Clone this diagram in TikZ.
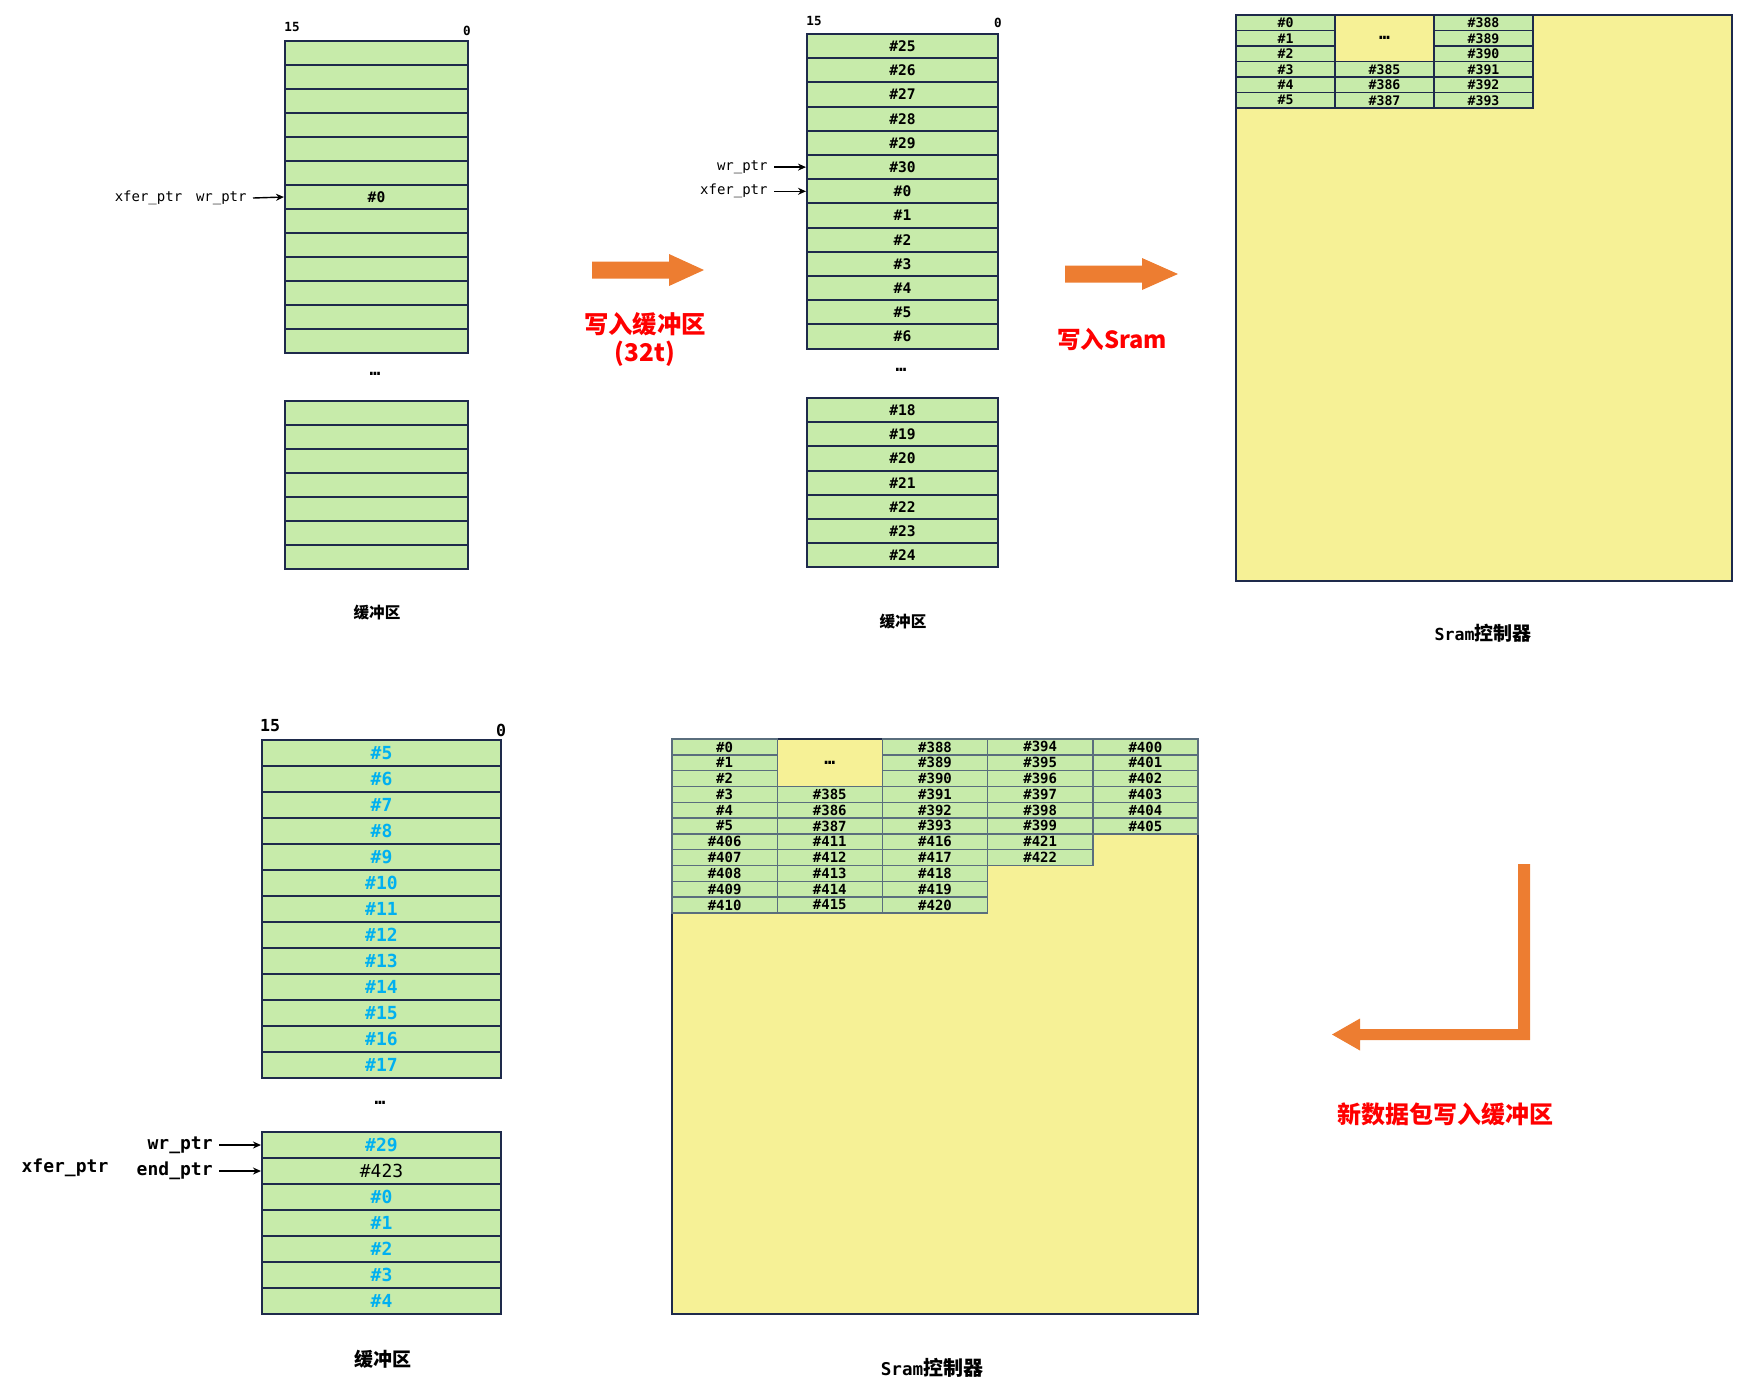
\documentclass[tikz,border=0pt]{standalone}
\usepackage{fontspec}
\setmonofont{DejaVu Sans Mono}
\newfontfamily\cjk{Noto Sans CJK SC}
\usetikzlibrary{arrows.meta}

\definecolor{cellgreen}{RGB}{199,235,170}
\definecolor{sramyellow}{RGB}{246,241,150}
\definecolor{cellline}{RGB}{30,42,75}
\definecolor{gridline}{RGB}{90,110,125}
\definecolor{flow}{RGB}{237,125,49}
\definecolor{note}{RGB}{255,0,0}
\definecolor{newdata}{RGB}{0,176,240}

\tikzset{
  cell/.style={draw=cellline, fill=cellgreen, line width=1pt, inner sep=0pt},
  bufA/.style={cell, minimum width=91.5pt, minimum height=12pt,
    font=\fontsize{7.3}{8}\ttfamily\bfseries},
  bufB/.style={cell, minimum width=95.5pt, minimum height=12.1pt,
    font=\fontsize{7.3}{8}\ttfamily\bfseries},
  bufC/.style={cell, minimum width=119.5pt, minimum height=13pt, text=newdata,
    font=\fontsize{9}{10}\ttfamily\bfseries},
  sramA/.style={cell, line width=0.7pt, minimum width=49.5pt, minimum height=7.75pt,
    font=\fontsize{6.6}{7}\ttfamily\bfseries},
  sramB/.style={cell, draw=gridline, line width=0.7pt, minimum width=52.6pt,
    minimum height=7.9pt, font=\fontsize{7}{7.5}\ttfamily\bfseries},
  sram/.style={draw=cellline, fill=sramyellow, line width=1pt},
  ptr/.style={inner sep=3pt, font=\fontsize{7}{8}\ttfamily},
  ptrC/.style={inner sep=3pt, font=\fontsize{9}{10}\ttfamily\bfseries},
  bit/.style={inner sep=0pt, font=\fontsize{6.3}{7}\ttfamily\bfseries},
  bitC/.style={inner sep=0pt, font=\fontsize{8.3}{9}\ttfamily\bfseries},
  dots/.style={inner sep=0pt, font=\fontsize{9}{10}\ttfamily\bfseries},
  title/.style={inner sep=0pt, font=\fontsize{7.8}{9}\cjk\bfseries},
  titleC/.style={inner sep=0pt, font=\fontsize{9.5}{11}\cjk\bfseries},
  step note/.style={inner sep=0pt, text=note, align=center,
    font=\fontsize{12.2}{14}\cjk\bfseries},
  ptrarrow/.style={-{Stealth[length=4pt,width=3.5pt]}, line width=0.7pt},
}

\begin{document}
\begin{tikzpicture}[x=0.5pt,y=-0.5pt]
  \useasboundingbox (0,0) rectangle (1761,1389);

  % 缓冲区 (初始)
  \foreach \i in {1,...,13}
    \node[bufA] (a\i) at (376.5,{41+(\i-0.5)*24}) {\ifnum\i=7 \#0\fi};
  \foreach \i in {1,...,7}
    \node[bufA] (aa\i) at (376.5,{401+(\i-0.5)*24}) {};
  \node[bit] (a15) at (292,27) {15};
  \node[bit] (a0) at (467,31) {0};
  \node[dots] (adots) at (375,374) {…};
  \node[title] (atitle) at (377,613) {缓冲区};
  \node[ptr] (xferA) at (148.5,198) {xfer\_ptr};
  \node[ptr, anchor=east] (wrA) at (253,198) {wr\_ptr};
  \draw[ptrarrow] (wrA.east) -- (a7.west);

  % 缓冲区 (写满)
  \foreach \lab [count=\i] in {25,26,27,28,29,30,0,1,2,3,4,5,6}
    \node[bufB] (b\i) at (902.5,{34+(\i-0.5)*24.2}) {\#\lab};
  \foreach \lab [count=\i] in {18,...,24}
    \node[bufB] (bb\i) at (902.5,{398+(\i-0.5)*24.2}) {\#\lab};
  \node[bit] (b15) at (814,21) {15};
  \node[bit] (b0) at (998,23) {0};
  \node[dots] (bdots) at (901,370) {…};
  \node[title] (btitle) at (903,622) {缓冲区};
  \node[ptr, anchor=east] (wrB) at (774,{34+5.5*24.2}) {wr\_ptr};
  \node[ptr, anchor=east] (xferB) at (774,{34+6.5*24.2}) {xfer\_ptr};
  \draw[ptrarrow] (wrB.east) -- (b6.west);
  \draw[ptrarrow] (xferB.east) -- (b7.west);

  % Sram 控制器 (上)
  \draw[sram] (1236,15) rectangle (1732,581);
  \foreach \r [evaluate=\r as \a using int(388+\r)] in {0,...,5} {
    \node[sramA] (s1-\r) at (1285.5,{15+(\r+0.5)*15.5}) {\#\r};
    \node[sramA] (s3-\r) at (1483.5,{15+(\r+0.5)*15.5}) {\#\a};
  }
  \foreach \r [evaluate=\r as \a using int(382+\r)] in {3,4,5}
    \node[sramA] (s2-\r) at (1384.5,{15+(\r+0.5)*15.5}) {\#\a};
  \node[dots] (sdots) at (1384.5,38.25) {…};
  \node[inner sep=0pt] (stitle) at (1483,633)
    {\fontsize{8.3}{9}\ttfamily\bfseries Sram\fontsize{9.5}{11}\cjk\bfseries 控制器};

  % 箭头与说明
  \fill[flow] (592,261.5) -- (669,261.5) -- (669,254) -- (704,270)
    -- (669,286) -- (669,278.5) -- (592,278.5) -- cycle;
  \node[step note] (n1) at (645,339) {写入缓冲区\\(32t)};
  \fill[flow] (1065,265.5) -- (1142,265.5) -- (1142,258) -- (1178,274)
    -- (1142,290) -- (1142,282.5) -- (1065,282.5) -- cycle;
  \node[step note, font=\fontsize{11.8}{14}\cjk\bfseries] (n2) at (1112,339) {写入Sram};
  \fill[flow] (1518,864) -- (1530,864) -- (1530,1040) -- (1360,1040)
    -- (1360,1050.5) -- (1332,1034.5) -- (1360,1018.5) -- (1360,1029)
    -- (1518,1029) -- cycle;
  \node[step note, font=\fontsize{12}{14}\cjk\bfseries] (n3) at (1445,1114)
    {新数据包写入缓冲区};

  % 缓冲区 (新数据包)
  \foreach \lab [count=\i] in {5,...,17}
    \node[bufC] (c\i) at (381.5,{740+(\i-0.5)*26}) {\#\lab};
  \foreach \lab [count=\i] in {29,423,0,1,2,3,4}
    \node[bufC] (cc\i) at (381.5,{1132+(\i-0.5)*26})
      {\ifnum\lab=423 \color{black}\mdseries\fi\#\lab};
  \node[bitC] (c15) at (270,726) {15};
  \node[bitC] (c0) at (501,730) {0};
  \node[dots] (cdots) at (380,1103) {…};
  \node[titleC] (ctitle) at (383,1359) {缓冲区};
  \node[ptrC] (xferC) at (65,1168) {xfer\_ptr};
  \node[ptrC, anchor=east] (wrC) at (219,1145) {wr\_ptr};
  \node[ptrC, anchor=east] (endC) at (219,1171) {end\_ptr};
  \draw[ptrarrow] (wrC.east) -- (cc1.west);
  \draw[ptrarrow] (endC.east) -- (cc2.west);

  % Sram 控制器 (下)
  \draw[sram] (672,739) rectangle (1198,1314);
  \foreach \r [evaluate=\r as \a using int(388+\r),
               evaluate=\r as \b using int(394+\r),
               evaluate=\r as \d using int(400+\r)] in {0,...,5} {
    \node[sramB] (t1-\r) at (724.6,{739+(\r+0.5)*15.8}) {\#\r};
    \node[sramB] (t3-\r) at (935,{739+(\r+0.5)*15.8}) {\#\a};
    \node[sramB] (t4-\r) at (1040.2,{739+(\r+0.5)*15.8}) {\#\b};
    \node[sramB] (t5-\r) at (1145.4,{739+(\r+0.5)*15.8}) {\#\d};
  }
  \foreach \r [evaluate=\r as \a using int(382+\r)] in {3,4,5}
    \node[sramB] (t2-\r) at (829.8,{739+(\r+0.5)*15.8}) {\#\a};
  \foreach \r [evaluate=\r as \a using int(400+\r),
               evaluate=\r as \b using int(405+\r),
               evaluate=\r as \d using int(410+\r)] in {6,...,10} {
    \node[sramB] (t1-\r) at (724.6,{739+(\r+0.5)*15.8}) {\#\a};
    \node[sramB] (t2-\r) at (829.8,{739+(\r+0.5)*15.8}) {\#\b};
    \node[sramB] (t3-\r) at (935,{739+(\r+0.5)*15.8}) {\#\d};
  }
  \foreach \r [evaluate=\r as \a using int(415+\r)] in {6,7}
    \node[sramB] (t4-\r) at (1040.2,{739+(\r+0.5)*15.8}) {\#\a};
  \node[dots] (tdots) at (829.8,762.7) {…};
  \node[inner sep=0pt] (ttitle) at (932,1368)
    {\fontsize{8.8}{10}\ttfamily\bfseries Sram\fontsize{10}{11}\cjk\bfseries 控制器};
\end{tikzpicture}
\end{document}
